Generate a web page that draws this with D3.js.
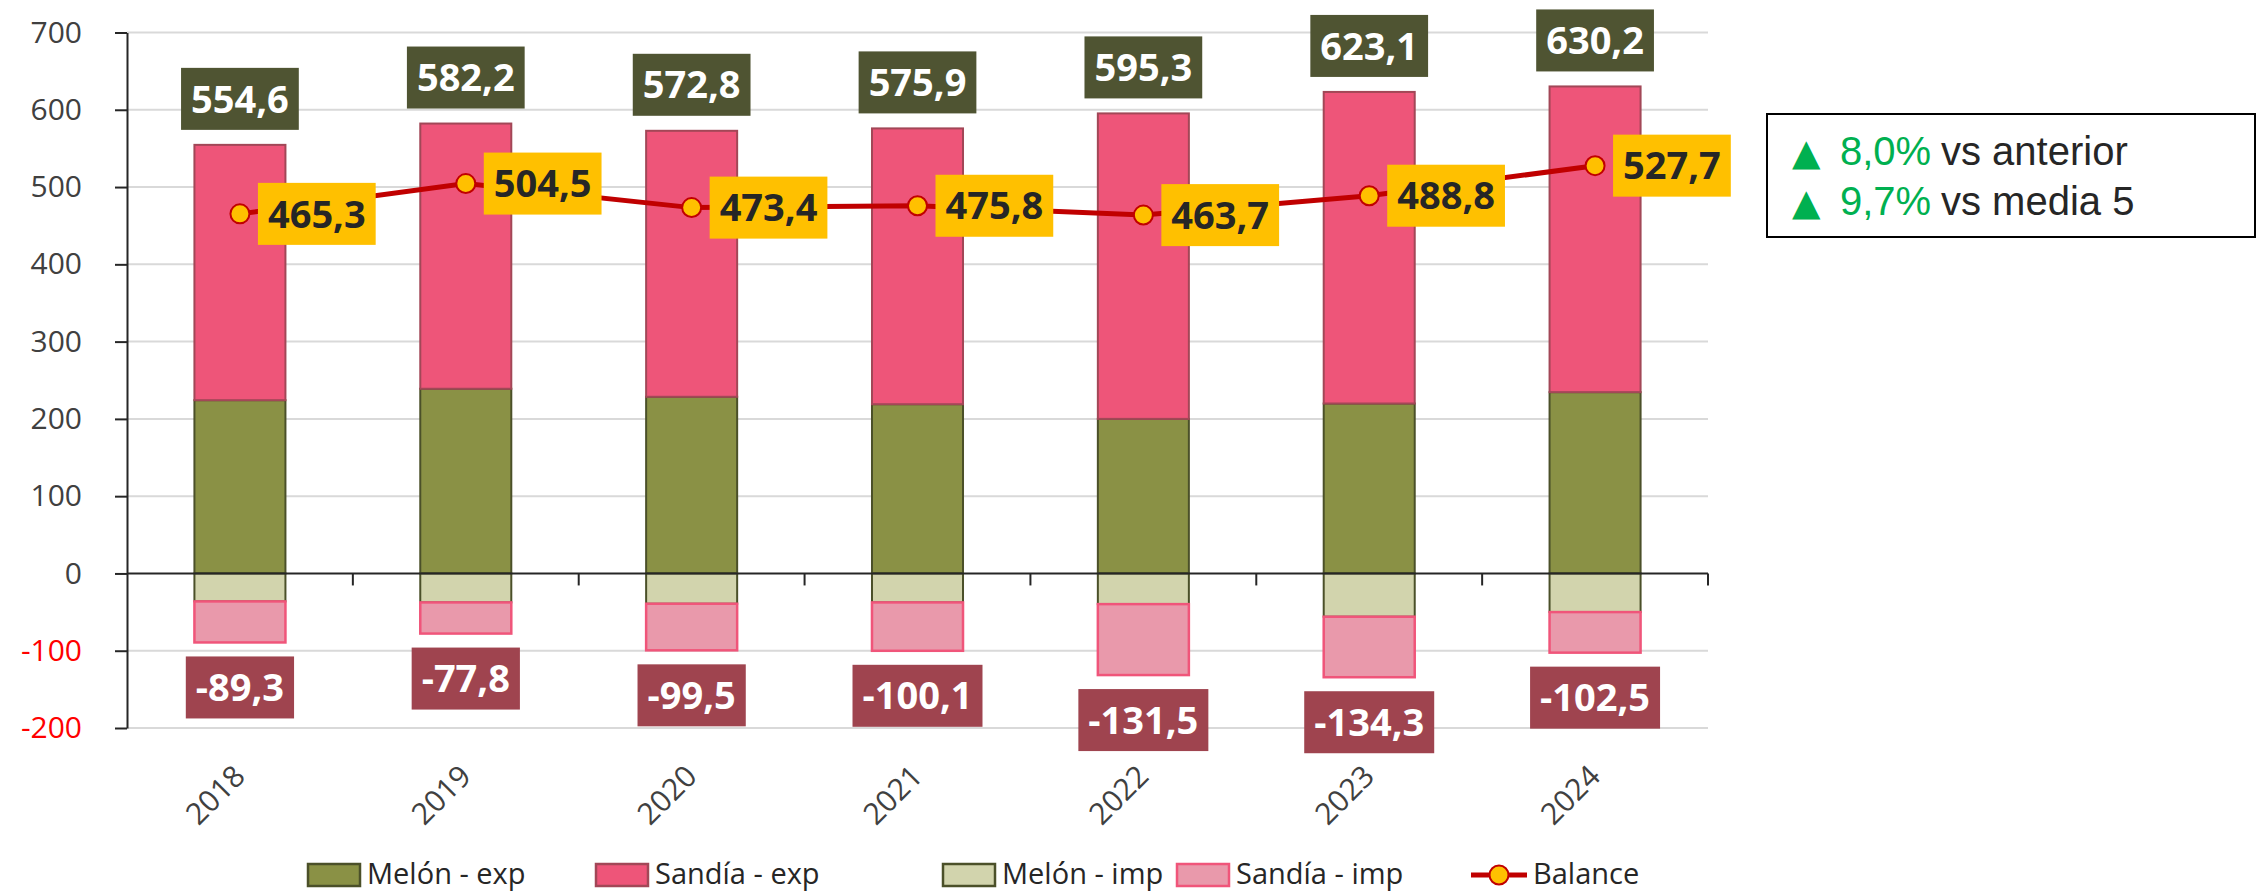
<!DOCTYPE html>
<html><head><meta charset="utf-8">
<script src="https://cdn.jsdelivr.net/npm/d3@7"></script>
<style>body{margin:0;background:#fff} svg{display:block}</style>
</head><body><svg id="c" width="2257" height="893"></svg>
<script>
const years = ["2018","2019","2020","2021","2022","2023","2024"];
const melonExp = [224.2, 239.0, 228.6, 219.0, 200.0, 219.9, 234.6];
const sandiaExp = [330.4, 343.2, 344.2, 356.9, 395.3, 403.2, 395.6];
const melonImp = [-36.2, -37.5, -39.2, -37.5, -39.7, -56.0, -50.0];
const sandiaImp = [-53.1, -40.3, -60.3, -62.6, -91.8, -78.3, -52.5];
const balance = [465.3, 504.5, 473.4, 475.8, 463.7, 488.8, 527.7];
const yTicks = [700, 600, 500, 400, 300, 200, 100, 0, -100, -200];
const seriesNames = ["Melón - exp", "Sandía - exp", "Melón - imp", "Sandía - imp", "Balance"];
const kpiValues = ["8,0%", "9,7%"];
const kpiTexts = ["vs anterior", "vs media 5"];

const keys = ["melonExp", "sandiaExp", "melonImp", "sandiaImp"];
const fills = {melonExp: "#8A9145", sandiaExp: "#EE5579", melonImp: "#D2D4AD", sandiaImp: "#E999AB"};
const strokes = {melonExp: "#4B5029", sandiaExp: "#A24757", melonImp: "#4B5029", sandiaImp: "#F0557A"};

const rows = years.map((y, i) => ({year: y, melonExp: melonExp[i], sandiaExp: sandiaExp[i], melonImp: melonImp[i], sandiaImp: sandiaImp[i], balance: balance[i]}));

const svg = d3.select("#c");
const left = 127, right = 1708;
const x = d3.scaleBand().domain(years).range([left, right]).paddingInner(0.597).paddingOuter(0.2985);
const y = d3.scaleLinear().domain([-200, 700]).range([728, 32.5]);
const cx = d => x(d) + x.bandwidth() / 2;
const fmt = v => d3.format(".1f")(v).replace(".", ",").replace("\u2212", "-");
const labelFont = "'Open Sans', 'Noto Sans', sans-serif";

// gridlines
svg.append("g").selectAll("line").data(yTicks.filter(t => t !== 0)).join("line")
  .attr("x1", left).attr("x2", right).attr("y1", d => y(d)).attr("y2", d => y(d))
  .attr("stroke", "#D9D9D9").attr("stroke-width", 2);

// y axis
const yAxis = svg.append("g").attr("transform", `translate(${left},0)`)
  .call(d3.axisLeft(y).tickValues(yTicks).tickSize(12).tickSizeOuter(0).tickPadding(33)
    .tickFormat(d => String(d)));
yAxis.select(".domain").attr("stroke", "#262626").attr("stroke-width", 2);
yAxis.selectAll(".tick line").attr("stroke", "#262626").attr("stroke-width", 2);
yAxis.selectAll(".tick text").attr("font-family", labelFont).attr("font-size", 30)
  .attr("fill", d => d < 0 ? "#FF0000" : "#404040");

// stacked bars
const stack = d3.stack().keys(keys).offset(d3.stackOffsetDiverging)(rows);
svg.append("g").selectAll("g").data(stack).join("g")
  .attr("fill", s => fills[s.key]).attr("stroke", s => strokes[s.key])
  .attr("stroke-width", s => s.key === "sandiaImp" ? 2.5 : 2)
  .selectAll("rect").data(s => s).join("rect")
  .attr("x", d => x(d.data.year)).attr("width", x.bandwidth())
  .attr("y", d => y(Math.max(d[0], d[1]))).attr("height", d => Math.abs(y(d[0]) - y(d[1])));

// x axis line and ticks
const xg = svg.append("g");
xg.append("line").attr("x1", left).attr("x2", right).attr("y1", y(0)).attr("y2", y(0))
  .attr("stroke", "#262626").attr("stroke-width", 2);
xg.selectAll("line.tk").data(years).join("line").attr("class", "tk")
  .attr("x1", d => x(d) + x.bandwidth() / 2 + x.step() / 2).attr("x2", d => x(d) + x.bandwidth() / 2 + x.step() / 2)
  .attr("y1", y(0)).attr("y2", y(0) + 12).attr("stroke", "#262626").attr("stroke-width", 2);
xg.selectAll("text").data(years).join("text")
  .attr("transform", d => `translate(${cx(d) + 7},778) rotate(-45)`)
  .attr("text-anchor", "end").attr("font-family", labelFont).attr("font-size", 30).attr("fill", "#404040")
  .text(d => d);

// balance line
svg.append("path").datum(rows)
  .attr("d", d3.line().x(d => cx(d.year)).y(d => y(d.balance)))
  .attr("fill", "none").attr("stroke", "#C00000").attr("stroke-width", 5);
svg.append("g").selectAll("circle").data(rows).join("circle")
  .attr("cx", d => cx(d.year)).attr("cy", d => y(d.balance)).attr("r", 9.5)
  .attr("fill", "#FFC000").attr("stroke", "#C00000").attr("stroke-width", 2);

// label helper
function boxLabel(g, xc, anchorMode, yTop, txt, bg, fg) {
  const fs = 38;
  const grp = g.append("g");
  const rect = grp.append("rect").attr("fill", bg);
  const t = grp.append("text").attr("font-family", labelFont).attr("font-weight", 700)
    .attr("font-size", fs).attr("fill", fg).attr("text-anchor", "middle").text(txt);
  const w = t.node().getComputedTextLength() + 20, h = 62;
  const x0 = anchorMode === "center" ? xc - w / 2 : xc;
  rect.attr("x", x0).attr("y", yTop).attr("width", w).attr("height", h);
  t.attr("x", x0 + w / 2).attr("y", yTop + h / 2 + fs * 0.36);
}
const lg = svg.append("g");
rows.forEach(r => {
  const totExp = r.melonExp + r.sandiaExp;
  const totImp = r.melonImp + r.sandiaImp;
  boxLabel(lg, cx(r.year), "center", y(totExp) - 15 - 62, fmt(totExp), "#4F5432", "#FFFFFF");
  boxLabel(lg, cx(r.year), "center", y(totImp) + 14, fmt(totImp), "#9F444F", "#FFFFFF");
  boxLabel(lg, cx(r.year) + 18, "left", y(r.balance) - 31, fmt(r.balance), "#FFC000", "#262626");
});

// legend
const legX = [308, 596, 943, 1177, 1471];
const legY = 875;
const leg = svg.append("g");
keys.forEach((k, i) => {
  leg.append("rect").attr("x", legX[i]).attr("y", legY - 11).attr("width", 52).attr("height", 22)
    .attr("fill", fills[k]).attr("stroke", strokes[k]).attr("stroke-width", 2.5);
  leg.append("text").attr("x", legX[i] + 59).attr("y", legY + 9).attr("font-family", labelFont)
    .attr("font-size", 29).attr("fill", "#262626").text(seriesNames[i]);
});
leg.append("line").attr("x1", legX[4]).attr("x2", legX[4] + 56).attr("y1", legY).attr("y2", legY)
  .attr("stroke", "#C00000").attr("stroke-width", 5);
leg.append("circle").attr("cx", legX[4] + 28).attr("cy", legY).attr("r", 9.5)
  .attr("fill", "#FFC000").attr("stroke", "#C00000").attr("stroke-width", 2);
leg.append("text").attr("x", legX[4] + 62).attr("y", legY + 9).attr("font-family", labelFont)
  .attr("font-size", 29).attr("fill", "#262626").text(seriesNames[4]);

// KPI box
const kb = svg.append("g");
kb.append("rect").attr("x", 1767).attr("y", 114).attr("width", 488).attr("height", 123)
  .attr("fill", "#fff").attr("stroke", "#000").attr("stroke-width", 2);
kpiValues.forEach((v, i) => {
  const by = 165 + i * 50;
  kb.append("text").attr("x", 1792).attr("y", by).attr("font-family", "'DejaVu Sans', sans-serif")
    .attr("font-size", 37).attr("fill", "#00B050").text("▲");
  kb.append("text").attr("x", 1840).attr("y", by).attr("font-family", "'Liberation Sans', Arial, sans-serif")
    .attr("font-size", 40).attr("fill", "#00B050").text(v);
  kb.append("text").attr("x", 1941).attr("y", by).attr("font-family", "'Liberation Sans', Arial, sans-serif")
    .attr("font-size", 40).attr("fill", "#262626").text(kpiTexts[i]);
});
</script></body></html>
